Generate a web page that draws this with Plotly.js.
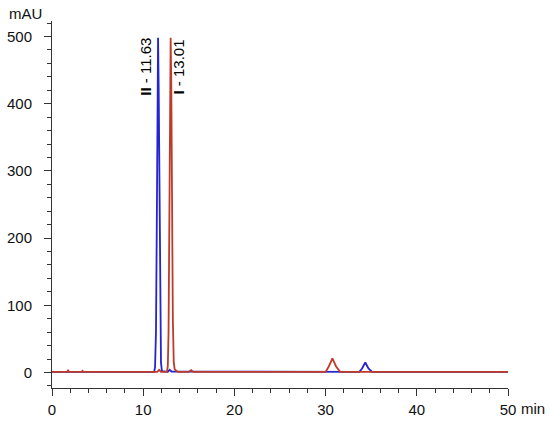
<!DOCTYPE html>
<html>
<head>
<meta charset="utf-8">
<script src="https://cdn.plot.ly/plotly-3.0.1.min.js"></script>
<style>html,body{margin:0;padding:0;background:#fff;}#chart{width:550px;height:421px;}</style>
</head>
<body>
<div id="chart"></div>
<script>
// Blue trace (compound II)
var timeBlue = [0, 11.20, 11.30, 11.40, 11.48, 11.55, 11.63, 11.70, 11.78, 11.86, 11.95, 12.05, 12.70, 12.90, 13.10, 33.70, 34.00, 34.35, 34.70, 35.10, 50];
var absBlue  = [1, 1, 8, 60, 200, 400, 498, 420, 230, 80, 15, 2, 1, 4, 1.5, 1, 6, 15, 6, 1, 1];
// Red trace (compound I)
var timeRed = [0, 1.65, 1.77, 1.90, 3.25, 3.35, 3.45, 11.55, 11.75, 11.95, 12.60, 12.70, 12.78, 12.86, 12.94, 13.01, 13.08, 13.16, 13.25, 13.35, 13.45, 13.60, 13.80, 15.00, 15.25, 15.50, 30.00, 30.35, 30.75, 31.15, 31.60, 50];
var absRed  = [1, 1, 3, 1, 1, 2.5, 1, 1, 4, 1, 1, 10, 60, 210, 420, 498, 430, 240, 80, 15, 5, 3, 1, 1, 3.5, 1, 1, 9, 21, 9, 1, 1];
// Peak labels
var peakLabels = ['<b>II</b> - 11.63', '<b>I</b> - 13.01'];
var peakLabelX = [10.3, 13.9];
var peakLabelY = [455, 455];
var xTicks = [0, 10, 20, 30, 40, 50];
var yTicks = [0, 100, 200, 300, 400, 500];

var traces = [
  {x: timeBlue, y: absBlue, type: 'scatter', mode: 'lines', line: {color: '#2424d0', width: 1.8}, hoverinfo: 'skip'},
  {x: timeRed, y: absRed, type: 'scatter', mode: 'lines', line: {color: '#bd3b2a', width: 1.8}, hoverinfo: 'skip'}
];

var annotations = peakLabels.map(function(t, i){
  return {x: peakLabelX[i], y: peakLabelY[i], xref: 'x', yref: 'y', text: t, showarrow: false,
    textangle: -90, xanchor: 'center', yanchor: 'middle', font: {family: 'Liberation Sans, Arial', size: 15, color: '#000'}};
});
annotations.push({x: -0.059, y: 1.02, xref: 'paper', yref: 'paper', text: 'mAU', showarrow: false,
  xanchor: 'center', yanchor: 'middle', font: {family: 'Liberation Sans, Arial', size: 15, color: '#111'}});
annotations.push({x: 1.055, y: -0.057, xref: 'paper', yref: 'paper', text: 'min', showarrow: false,
  xanchor: 'center', yanchor: 'middle', font: {family: 'Liberation Sans, Arial', size: 15, color: '#111'}});

var layout = {
  width: 550, height: 421,
  margin: {l: 52, r: 42, t: 21, b: 33},
  paper_bgcolor: '#fff', plot_bgcolor: '#fff',
  showlegend: false,
  font: {family: 'Liberation Sans, Arial', size: 15, color: '#111'},
  xaxis: {
    range: [0, 50], showgrid: false, zeroline: false,
    showline: true, linecolor: '#333', linewidth: 1,
    ticks: 'outside', ticklen: 7, tickcolor: '#333', tickwidth: 1,
    tickvals: xTicks, ticktext: xTicks.map(String), ticklabelstandoff: 1,
    minor: {dtick: 2, ticks: 'outside', ticklen: 4, tickcolor: '#333', showgrid: false}
  },
  yaxis: {
    range: [-23, 523], showgrid: false, zeroline: false,
    showline: true, linecolor: '#333', linewidth: 1,
    ticks: 'outside', ticklen: 7, tickcolor: '#333', tickwidth: 1,
    tickvals: yTicks, ticktext: yTicks.map(String), ticklabelstandoff: 9,
    minor: {dtick: 20, ticks: 'outside', ticklen: 4, tickcolor: '#333', showgrid: false}
  },
  annotations: annotations
};

Plotly.newPlot('chart', traces, layout, {displayModeBar: false, staticPlot: true});
</script>
</body>
</html>
